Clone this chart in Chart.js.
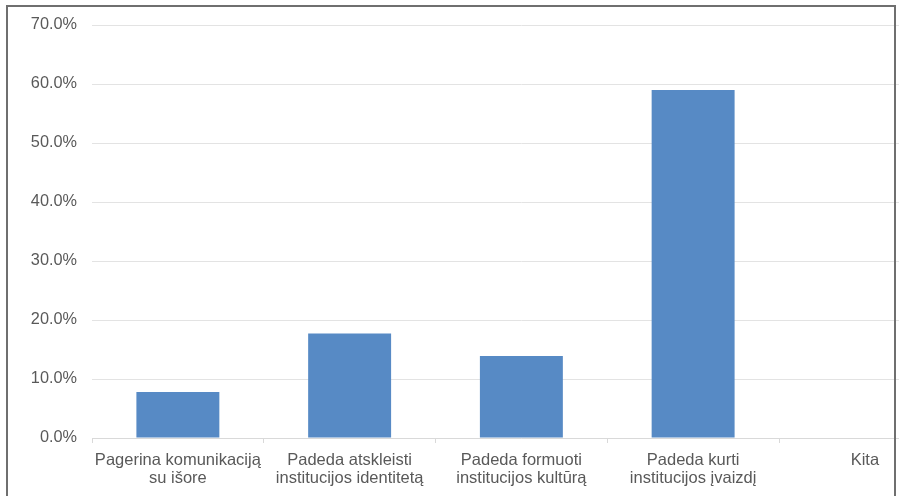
<!DOCTYPE html>
<html>
<head>
<meta charset="utf-8">
<script src="https://cdn.jsdelivr.net/npm/chart.js@4"></script>
<style>
    html, body { margin: 0; padding: 0; background: #fff; overflow: hidden; }
    .frame { position: absolute; left: 0; top: 0; width: 899px; height: 496px; overflow: hidden; }
    .chart-box { position: absolute; left: 0; top: 0; width: 960px; height: 496px; }
    .border { position: absolute; left: 6px; top: 5px; width: 886px; height: 520px; border: 2px solid #6f6f6f; }
</style>
</head>
<body>
<div class="frame">
    <div class="chart-box"><canvas id="chart-answers"></canvas></div>
    <div class="border"></div>
</div>
<script>
const categories = [
    ["Pagerina komunikaciją", "su išore"],
    ["Padeda atskleisti", "institucijos identitetą"],
    ["Padeda formuoti", "institucijos kultūrą"],
    ["Padeda kurti", "institucijos įvaizdį"],
    "Kita",
];
const shares = [7.8, 17.7, 13.9, 59.0, 0];
const yTicks = [0, 10, 20, 30, 40, 50, 60, 70];

const ctx = document.getElementById("chart-answers").getContext("2d");
new Chart(ctx, {
    type: "bar",
    data: {
        labels: categories,
        datasets: [
            {
                label: "Atsakymai",
                data: shares,
                backgroundColor: "#578ac5",
                borderWidth: 0,
                categoryPercentage: 1,
                barPercentage: 0.483,
            },
        ],
    },
    options: {
        responsive: true,
        maintainAspectRatio: false,
        animation: false,
        layout: { padding: { top: 25, right: 9.25, bottom: 0, left: 0 } },
        plugins: {
            legend: { display: false },
            tooltip: { enabled: false },
        },
        scales: {
            x: {
                afterFit: (scale) => { scale.height = 58; },
                grid: {
                    offset: true,
                    drawOnChartArea: false,
                    color: "#d9d9d9",
                    tickLength: 5,
                },
                border: { color: "#d9d9d9" },
                ticks: {
                    color: "#595959",
                    font: { family: "Liberation Sans", size: 16.5, lineHeight: 1.05 },
                    padding: 9,
                    maxRotation: 0,
                    autoSkip: false,
                },
            },
            y: {
                min: yTicks[0],
                max: yTicks[yTicks.length - 1],
                afterFit: (scale) => { scale.width = 92; },
                afterBuildTicks: (scale) => { scale.ticks = yTicks.map((v) => ({ value: v })); },
                grid: { color: "#e3e3e3", drawTicks: false },
                border: { display: false },
                ticks: {
                    color: "#595959",
                    font: { family: "Liberation Sans", size: 16.3 },
                    padding: 15,
                    callback: (value) => value.toFixed(1) + "%",
                },
            },
        },
    },
});
</script>
</body>
</html>
